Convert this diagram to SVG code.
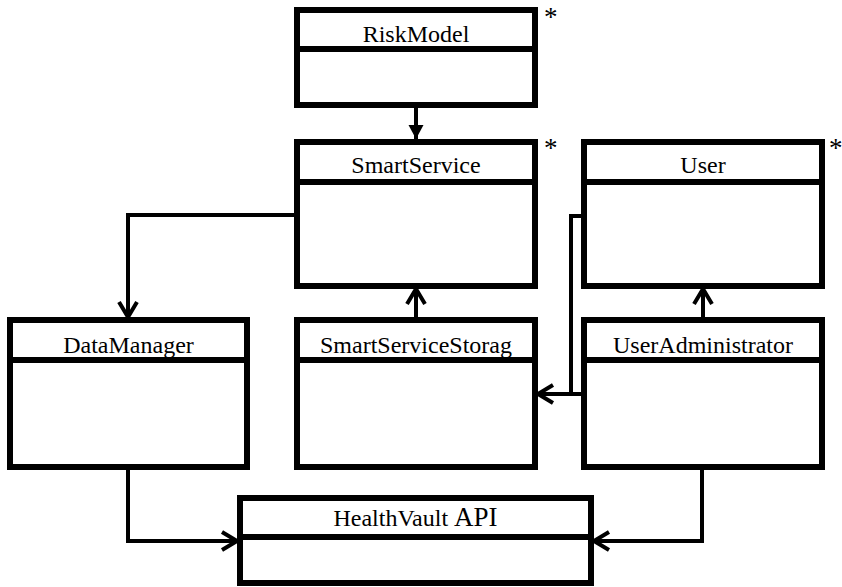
<svg xmlns="http://www.w3.org/2000/svg" width="842" height="587" viewBox="0 0 842 587">
<style>
.box{fill:#fff;stroke:#000;stroke-width:6}
.div{stroke:#000;stroke-width:6}
.t{font-family:"Liberation Serif","Times New Roman",serif;font-size:24px;fill:#000;text-anchor:middle}
.star{font-family:"Liberation Serif","Times New Roman",serif;font-size:27px;fill:#000}
.c{fill:none;stroke:#000;stroke-width:4}
</style>
<defs>
<marker id="open" markerUnits="userSpaceOnUse" markerWidth="30" markerHeight="30" viewBox="-20 -15 30 30" refX="0" refY="0" orient="auto" overflow="visible">
<path d="M-15,-9 L0,0 L-15,9" fill="none" stroke="#000" stroke-width="4"/>
</marker>
<marker id="filled" markerUnits="userSpaceOnUse" markerWidth="30" markerHeight="30" viewBox="-20 -15 30 30" refX="0" refY="0" orient="auto" overflow="visible">
<path d="M-14,-7.5 L0,0 L-14,7.5 Z" fill="#000"/>
</marker>
</defs>
<g id="connectors">
<path class="c" d="M416,108 L416,139" marker-end="url(#filled)"/>
<path class="c" d="M294,215 L128,215 L128,317" marker-end="url(#open)"/>
<path class="c" d="M416,317 L416,289" marker-end="url(#open)"/>
<path class="c" d="M703,317 L703,289" marker-end="url(#open)"/>
<path class="c" d="M581,216 L571,216 L571,394 L538,394" marker-end="url(#open)"/>
<path class="c" d="M581,394 L560,394"/>
<path class="c" d="M128,470 L128,541 L237,541" marker-end="url(#open)"/>
<path class="c" d="M702,470 L702,541 L594,541" marker-end="url(#open)"/>
</g>
<g id="RiskModel">
<rect class="box" x="297" y="10" width="238" height="95"/>
<line class="div" x1="297" y1="49" x2="535" y2="49"/>
<text class="t" x="416" y="42">RiskModel</text>
<text class="star" x="544" y="26">*</text>
</g>
<g id="SmartService">
<rect class="box" x="297" y="142" width="238" height="144"/>
<line class="div" x1="297" y1="182" x2="535" y2="182"/>
<text class="t" x="416" y="173">SmartService</text>
<text class="star" x="544" y="157">*</text>
</g>
<g id="User">
<rect class="box" x="584" y="142" width="238" height="144"/>
<line class="div" x1="584" y1="182" x2="822" y2="182"/>
<text class="t" x="703" y="173">User</text>
<text class="star" x="829" y="157">*</text>
</g>
<g id="DataManager">
<rect class="box" x="10" y="320" width="237" height="147"/>
<line class="div" x1="10" y1="360" x2="247" y2="360"/>
<text class="t" x="128.5" y="353">DataManager</text>
</g>
<g id="SmartServiceStorag">
<rect class="box" x="297" y="320" width="238" height="147"/>
<line class="div" x1="297" y1="360" x2="535" y2="360"/>
<text class="t" x="416" y="353">SmartServiceStorag</text>
</g>
<g id="UserAdministrator">
<rect class="box" x="584" y="320" width="238" height="147"/>
<line class="div" x1="584" y1="360" x2="822" y2="360"/>
<text class="t" x="703" y="353">UserAdministrator</text>
</g>
<g id="HealthVaultAPI">
<rect class="box" x="240" y="498" width="351" height="85"/>
<line class="div" x1="240" y1="537" x2="591" y2="537"/>
<text class="t" x="415.5" y="526">HealthVault <tspan font-size="27">API</tspan></text>
</g>
</svg>
